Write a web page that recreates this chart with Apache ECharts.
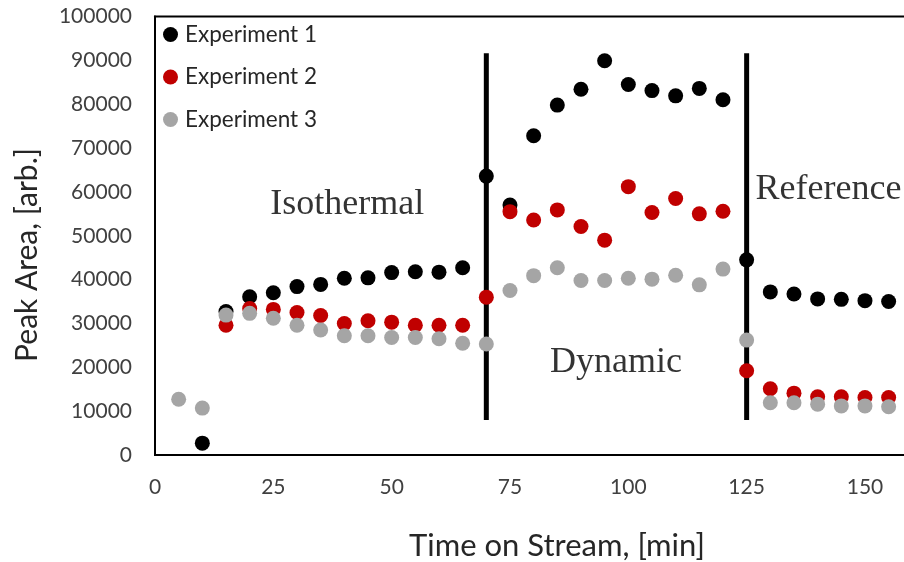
<!DOCTYPE html>
<html>
<head>
<meta charset="utf-8">
<title>Peak Area vs Time on Stream</title>
<script src="https://cdn.jsdelivr.net/npm/echarts@6/dist/echarts.min.js"></script>
<style>
  html, body { margin: 0; padding: 0; background: #fff; }
  #chart { width: 904px; height: 562px; }
</style>
</head>
<body>
<div id="chart"></div>
<script>
// Time on stream, minutes, for each experiment
const timesExp1 = [10, 15, 20, 25, 30, 35, 40, 45, 50, 55, 60, 65, 70, 75, 80, 85, 90, 95, 100, 105, 110, 115, 120, 125, 130, 135, 140, 145, 150, 155];
const timesExp2 = [15, 20, 25, 30, 35, 40, 45, 50, 55, 60, 65, 70, 75, 80, 85, 90, 95, 100, 105, 110, 115, 120, 125, 130, 135, 140, 145, 150, 155];
const timesExp3 = [5, 10, 15, 20, 25, 30, 35, 40, 45, 50, 55, 60, 65, 70, 75, 80, 85, 90, 95, 100, 105, 110, 115, 120, 125, 130, 135, 140, 145, 150, 155];

// Peak areas [arb.]
const areaExp1 = [2700, 32700, 36100, 37000, 38400, 38900, 40300, 40400, 41600, 41800, 41700, 42700,
  63600, 57000, 72800, 79800, 83400, 89900, 84500, 83100, 81900, 83600, 81000,
  44500, 37200, 36700, 35600, 35500, 35200, 35000];
const areaExp2 = [29600, 33400, 33200, 32500, 31800, 30000, 30600, 30300, 29600, 29600, 29600,
  36000, 55500, 53600, 55900, 52100, 49000, 61200, 55300, 58500, 55000, 55600,
  19200, 15100, 14100, 13300, 13300, 13100, 13100];
const areaExp3 = [12700, 10700, 31900, 32300, 31200, 29600, 28500, 27200, 27200, 26800, 26800, 26500, 25500,
  25300, 37500, 40900, 42700, 39800, 39800, 40300, 40100, 41000, 38800, 42400,
  26200, 11900, 11900, 11600, 11200, 11200, 11000];

const seriesNames = ['Experiment 1', 'Experiment 2', 'Experiment 3'];
const seriesColors = ['#000000', '#C00000', '#A5A5A5'];

// Phase boundaries (min) and the vertical extent of the divider lines
const boundaryTimes = [70, 125];
const boundarySpan = [8000, 91600];

// Phase names and where they sit (time, area)
const phaseNames = ['Isothermal', 'Dynamic', 'Reference'];
const phaseTimes = [40.6, 97.4, 142.3];
const phaseAreas = [57100, 21100, 60500];

const xTickLabels = ['0', '25', '50', '75', '100', '125', '150', '175'];
const yTicks = [0, 10000, 20000, 30000, 40000, 50000, 60000, 70000, 80000, 90000, 100000];

const pair = (xs, ys) => xs.map((x, i) => [x, ys[i]]);
const sans = 'Lato, "Open Sans", sans-serif';

const chart = echarts.init(document.getElementById('chart'), null, { renderer: 'canvas' });

const dividerSeries = boundaryTimes.map((t) => ({
  type: 'line',
  name: 'divider-' + t,
  data: [[t, boundarySpan[0]], [t, boundarySpan[1]]],
  symbol: 'none',
  silent: true,
  lineStyle: { color: '#000', width: 5, cap: 'butt' },
  z: 1
}));

const expSeries = [areaExp1, areaExp2, areaExp3].map((vals, i) => ({
  type: 'scatter',
  name: seriesNames[i],
  data: pair([timesExp1, timesExp2, timesExp3][i], vals),
  symbol: 'circle',
  symbolSize: 15,
  itemStyle: { color: seriesColors[i], opacity: 1 },
  z: 3
}));

const phaseSeries = {
  type: 'scatter',
  name: 'phases',
  symbolSize: 0,
  silent: true,
  data: phaseNames.map((n, i) => ({ name: n, value: [phaseTimes[i], phaseAreas[i]] })),
  label: {
    show: true,
    position: 'inside',
    formatter: (p) => p.name,
    fontFamily: '"Liberation Serif", "Times New Roman", serif',
    fontSize: 36,
    color: '#000'
  },
  z: 4
};

chart.setOption({
  animation: false,
  backgroundColor: '#fff',
  grid: {
    left: 155, top: 16.5, width: 828.3, height: 438.5,
    outerBoundsMode: 'none',
    containLabel: false,
    show: true, borderColor: '#000', borderWidth: 2, backgroundColor: 'transparent'
  },
  legend: {
    data: seriesNames,
    orient: 'vertical',
    left: 158,
    top: 18,
    itemWidth: 15,
    itemHeight: 15,
    itemGap: 19.5,
    icon: 'circle',
    selectedMode: false,
    textStyle: { fontFamily: sans, fontSize: 22.5, color: '#262626', padding: [0, 0, 0, 2] }
  },
  xAxis: {
    type: 'value',
    min: 0, max: 175, interval: 25,
    axisLine: { show: true, lineStyle: { color: '#000', width: 2 } },
    axisTick: { show: false },
    splitLine: { show: false },
    axisLabel: {
      margin: 22,
      fontFamily: sans, fontSize: 21, color: '#404040',
      formatter: (v) => xTickLabels[Math.round(v / 25)] ?? ''
    }
  },
  yAxis: {
    type: 'value',
    min: yTicks[0], max: yTicks[yTicks.length - 1], interval: yTicks[1] - yTicks[0],
    axisLine: { show: true, lineStyle: { color: '#000', width: 2 } },
    axisTick: { show: false },
    splitLine: { show: false },
    axisLabel: { margin: 23, fontFamily: sans, fontSize: 21, color: '#404040', formatter: (v) => String(v) }
  },
  graphic: [
    {
      type: 'text', x: 27, y: 255, rotation: Math.PI / 2,
      style: { text: 'Peak Area, [arb.]', font: '30px ' + sans, fill: '#262626', align: 'center', verticalAlign: 'middle' }
    },
    {
      type: 'text', x: 557, y: 546,
      style: { text: 'Time on Stream, [min]', font: '31px ' + sans, fill: '#262626', align: 'center', verticalAlign: 'middle' }
    }
  ],
  series: [...dividerSeries, ...expSeries, phaseSeries]
});
</script>
</body>
</html>
